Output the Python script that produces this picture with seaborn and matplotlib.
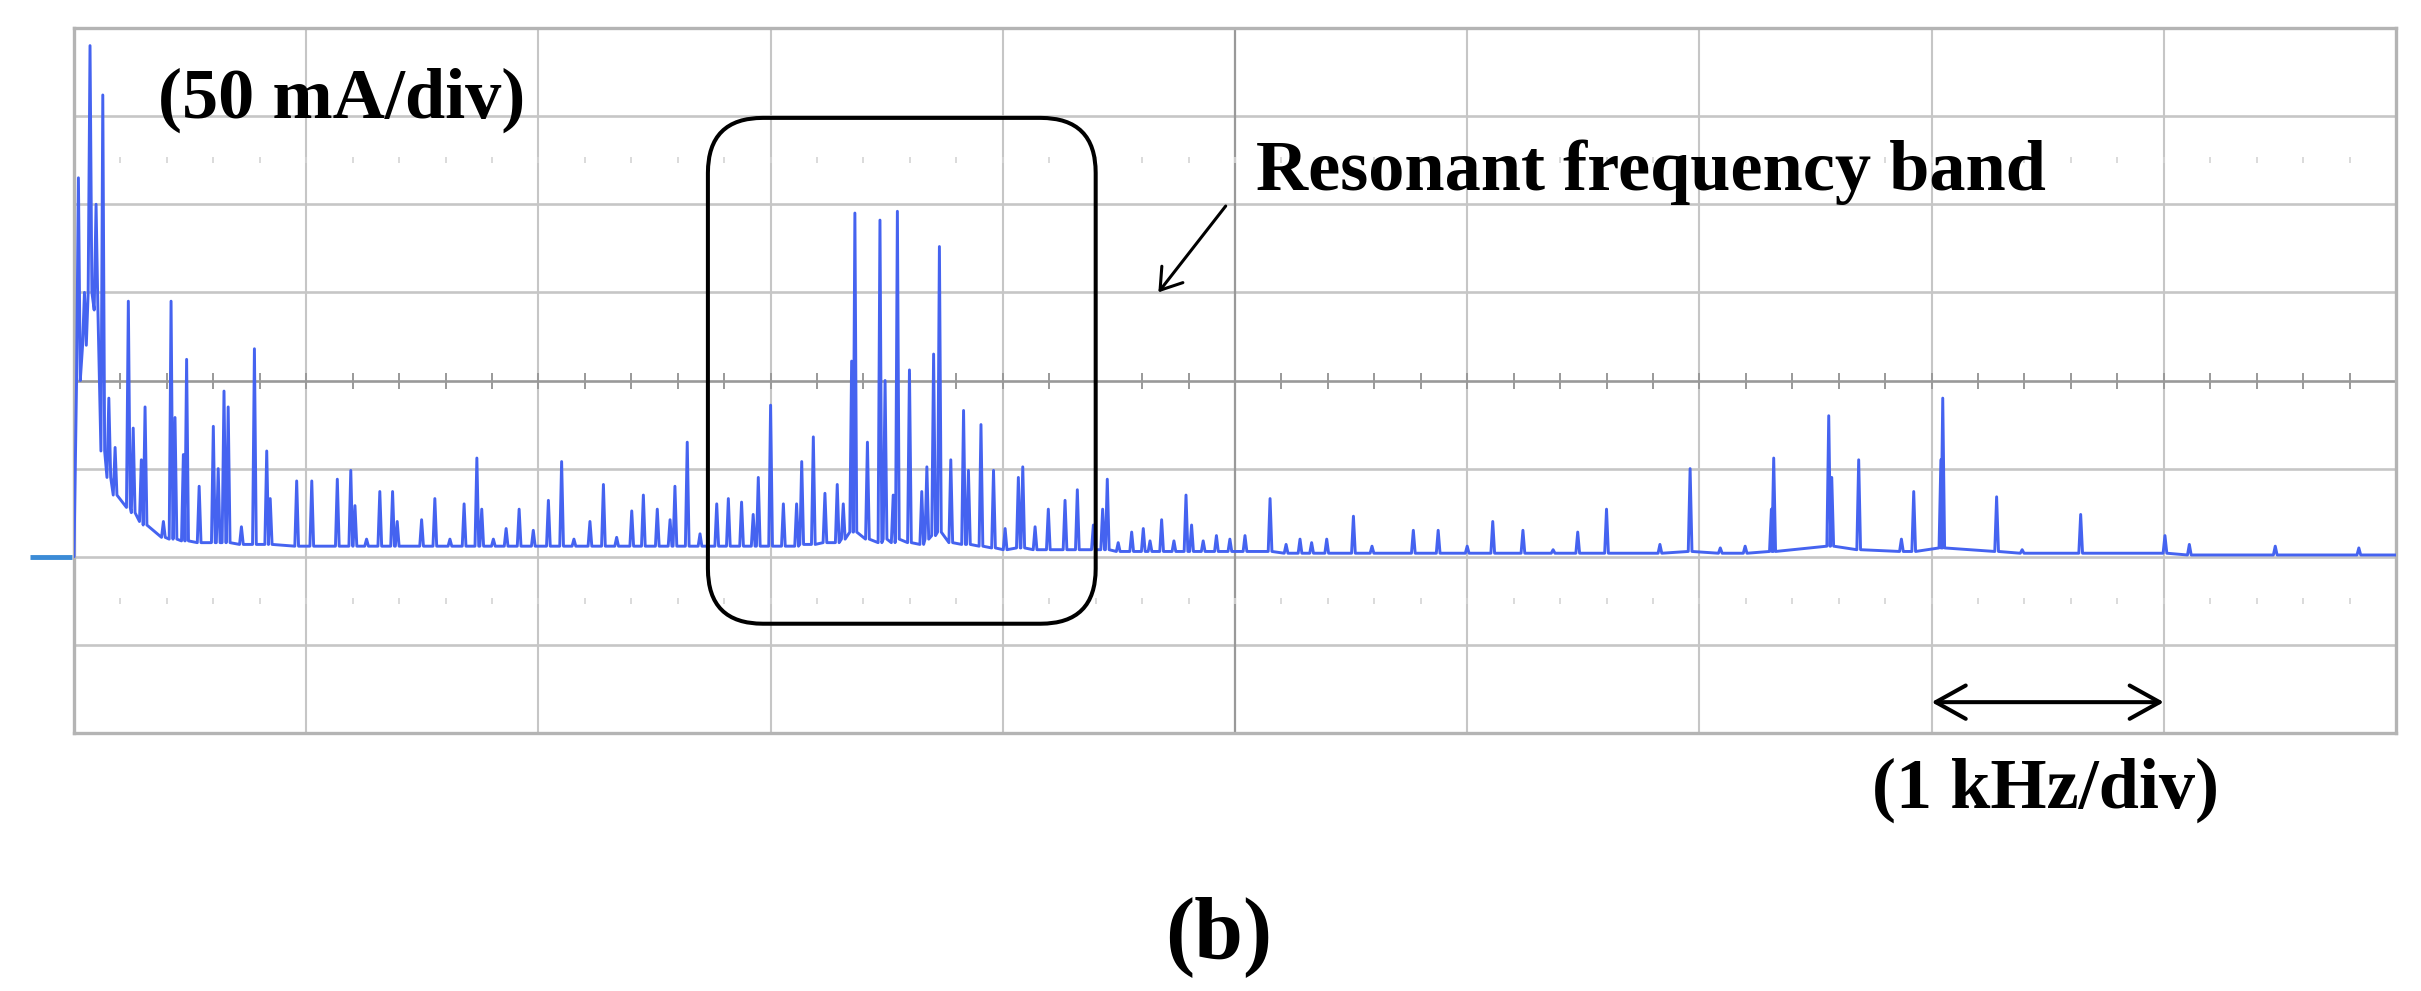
import numpy as np
import matplotlib
matplotlib.use("Agg")
import matplotlib.pyplot as plt
from matplotlib.patches import FancyBboxPatch
import seaborn as sns

# spectrum: peak frequency (kHz), peak height (mA), foot level (mA)
peak_khz = [0.019, 0.045, 0.069, 0.095, 0.124, 0.150, 0.177, 0.234, 0.255, 0.290,
            0.306, 0.385, 0.418, 0.435, 0.471, 0.485, 0.539, 0.600, 0.621, 0.646,
            0.664, 0.721, 0.777, 0.830, 0.845, 0.959, 1.024, 1.134, 1.192, 1.210,
            1.260, 1.317, 1.372, 1.392, 1.497, 1.554, 1.619, 1.680, 1.735, 1.756,
            1.806, 1.861, 1.917, 1.978, 2.043, 2.100, 2.153, 2.222, 2.280, 2.337,
            2.402, 2.452, 2.512, 2.567, 2.588, 2.641, 2.696, 2.768, 2.818, 2.875,
            2.925, 2.947, 3.000, 3.055, 3.112, 3.134, 3.184, 3.234, 3.287, 3.313,
            3.349, 3.363, 3.417, 3.471, 3.493, 3.528, 3.546, 3.598, 3.651, 3.673,
            3.702, 3.727, 3.776, 3.831, 3.852, 3.906, 3.960, 4.010, 4.067, 4.086,
            4.139, 4.196, 4.268, 4.321, 4.390, 4.430, 4.450, 4.497, 4.555, 4.605,
            4.634, 4.684, 4.737, 4.789, 4.813, 4.863, 4.920, 4.978, 5.043, 5.151,
            5.220, 5.280, 5.330, 5.395, 5.510, 5.590, 5.768, 5.875, 6.000, 6.110,
            6.240, 6.370, 6.476, 6.600, 6.830, 6.960, 7.090, 7.197, 7.310, 7.320,
            7.557, 7.570, 7.686, 7.870, 7.923, 8.040, 8.048, 8.280, 8.390, 8.642,
            9.005, 9.110, 9.480, 9.840]
peak_ma = [215, 150, 290, 200, 262, 90, 62, 145, 73, 55,
           85, 20, 145, 79, 58, 112, 40, 74, 50, 94,
           85, 17, 118, 60, 33, 43, 43, 44, 49, 29,
           10, 37, 37, 20, 21, 33, 10, 30, 56, 27,
           10, 16, 27, 15, 32, 54, 10, 20, 41, 11,
           26, 35, 27, 21, 40, 65, 13, 30, 33, 31,
           24, 45, 86, 30, 30, 54, 68, 36, 41, 30,
           111, 195, 65, 191, 100, 35, 196, 106, 37, 51,
           115, 176, 55, 83, 49, 75, 49, 16, 45, 51,
           17, 27, 32, 38, 18, 27, 44, 8, 14, 16,
           9, 21, 9, 35, 18, 9, 12, 10, 12, 33,
           7, 10, 8, 10, 23, 6, 15, 15, 6, 20,
           15, 4, 14, 27, 7, 50, 5, 6, 27, 56,
           80, 45, 55, 10, 37, 55, 90, 34, 4, 24,
           12, 7, 6, 5]
floor_ma = [100, 120, 150, 140, 60, 45, 35, 28, 25, 20,
            18, 11, 10, 10, 9, 9, 8, 8, 8, 8,
            8, 7, 7, 7, 7, 6, 6, 6, 6, 6,
            6, 6, 6, 6, 6, 6, 6, 6, 6, 6,
            6, 6, 6, 6, 6, 6, 6, 6, 6, 6,
            6, 6, 6, 6, 6, 6, 6, 6, 6, 6,
            6, 6, 6, 6, 6, 7, 7, 8, 8, 10,
            14, 14, 10, 8, 10, 8, 10, 8, 7, 10,
            12, 14, 8, 7, 7, 6, 5, 4, 5, 5,
            4, 4, 4, 4, 4, 4, 4, 3, 3, 3,
            3, 3, 3, 3, 3, 3, 3, 3, 3, 3,
            2, 2, 2, 2, 2, 2, 2, 2, 2, 2,
            2, 2, 2, 2, 2, 3, 2, 2, 3, 3,
            6, 6, 4, 3, 3, 5, 5, 3, 2, 2,
            2, 1, 1, 1]

# screen: 10 x 8 divisions, 1 kHz/div and 50 mA/div, zero two divisions above the bottom
x_lim = (0, 10)
y_lim = (-100, 300)
spike_hw = 0.008

trace_khz = [0.0]
trace_ma = [0.0]
for f, p, b in zip(peak_khz, peak_ma, floor_ma):
    trace_khz += [f - spike_hw, f, f + spike_hw]
    trace_ma += [b, p, b]
trace_khz.append(10.0)
trace_ma.append(1.0)

sns.set_theme(style="white")
plt.rcParams["font.family"] = ["Liberation Serif", "DejaVu Serif"]

fig = plt.figure(figsize=(24.21, 9.91), dpi=100)
ax = fig.add_axes([74 / 2421, 1 - 733 / 991, 2322 / 2421, 705 / 991])
ax.set_xlim(*x_lim)
ax.set_ylim(*y_lim)
ax.set_xticks([])
ax.set_yticks([])

grid_c = "#c6c6c6"
center_c = "#999999"
for k in range(1, 10):
    if k != 5:
        ax.axvline(k, color=grid_c, lw=1.5, zorder=1)
for m in [-50, 0, 50, 150, 200, 250]:
    ax.axhline(m, color=grid_c, lw=1.9, zorder=1)
ax.axvline(5, color=center_c, lw=1.6, zorder=1)
ax.axhline(100, color=center_c, lw=1.9, zorder=1)

xt = np.arange(0.2, 10, 0.2)
ax.plot(xt, np.full(len(xt), 100), ls="", marker="|", ms=11, mew=1.4, color=center_c, zorder=1)
for yy in [225, -25]:
    ax.plot(xt, np.full(len(xt), yy), ls="", marker="|", ms=4, mew=1.2, color="#d4d4d4", zorder=1)

for s in ax.spines.values():
    s.set_color("#b4b4b4")
    s.set_linewidth(2.4)

sns.lineplot(x=trace_khz, y=trace_ma, sort=False, estimator=None, ax=ax,
             color="#4563f0", linewidth=2.1, zorder=3)

# ground marker of the channel, left of the screen
ax.plot([-0.19, -0.01], [0, 0], color="#3b8bd6", lw=3.5, clip_on=False, solid_capstyle="butt")

box = FancyBboxPatch((2.73, -38), 1.67, 287,
                     boxstyle="round,pad=0,rounding_size=0.237",
                     mutation_aspect=131.8, fill=False, ec="black", lw=2.9, zorder=5)
ax.add_patch(box)

txt = dict(fontsize=52, fontweight="bold", color="black")
ax.text(0.36, 249, "(50 mA/div)", ha="left", va="baseline", zorder=6, **txt)
ax.text(5.09, 208, "Resonant frequency band", ha="left", va="baseline", zorder=6, **txt)
ax.annotate("", xy=(4.67, 150), xytext=(4.96, 199),
            arrowprops=dict(arrowstyle="->,head_length=0.6,head_width=0.4",
                            mutation_scale=24, lw=2.2, color="black",
                            shrinkA=0, shrinkB=0), zorder=6)
ax.annotate("", xy=(9, -82.5), xytext=(8, -82.5),
            arrowprops=dict(arrowstyle="<->,head_length=0.72,head_width=0.4",
                            mutation_scale=30, lw=2.9, color="black",
                            shrinkA=0, shrinkB=0), zorder=6)
ax.text(8.49, -142.5, "(1 kHz/div)", ha="center", va="baseline", clip_on=False, **txt)

fig.text(1219 / 2421, 1 - 958 / 991, "(b)", ha="center", va="baseline",
         fontsize=63, fontweight="bold", color="black")

fig.savefig("out.png", dpi=100, facecolor="white")
